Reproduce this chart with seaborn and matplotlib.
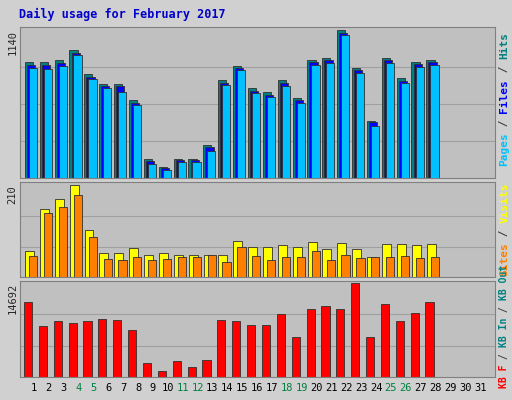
import matplotlib
matplotlib.use("Agg")
import matplotlib.pyplot as plt
import seaborn as sns
import numpy as np

sns.set_style("white")
plt.rcParams['font.family'] = ['DejaVu Sans Mono', 'DejaVu Sans']

days = list(range(1, 29))
all_days = list(range(1, 32))
weekend = [4, 5, 11, 12, 18, 19, 25, 26]
hits = [892, 892, 908, 985, 799, 722, 722, 597, 147, 85, 147, 147, 256, 752, 861, 690, 659, 752, 613, 908, 923, 1140, 845, 442, 923, 768, 892, 908]
files = [870, 870, 885, 965, 780, 705, 705, 580, 130, 75, 135, 135, 240, 735, 845, 672, 642, 735, 598, 890, 905, 1118, 828, 428, 905, 750, 875, 890]
pages = [850, 840, 860, 950, 765, 690, 665, 565, 110, 60, 120, 120, 210, 715, 830, 655, 625, 705, 580, 870, 885, 1100, 810, 400, 885, 735, 855, 870]
visits = [60, 157, 180, 212, 109, 55, 55, 67, 51, 55, 51, 51, 51, 51, 83, 69, 69, 74, 69, 81, 65, 79, 65, 46, 76, 76, 74, 76]
sites = [48, 148, 162, 189, 92, 42, 39, 46, 39, 42, 46, 46, 51, 35, 69, 48, 39, 46, 46, 60, 39, 51, 44, 46, 46, 48, 44, 46]
kbytes = [11690, 7900, 8690, 8370, 8690, 9010, 8850, 7270, 2210, 950, 2530, 1580, 2690, 8850, 8690, 8060, 8060, 9800, 6320, 10590, 11060, 10590, 14692, 6320, 11380, 8690, 9960, 11690]

fig = plt.figure(figsize=(5.12, 4.0), dpi=100)
fig.patch.set_facecolor('#d0d0d0')
fig.text(0.037, 0.963, "Daily usage for February 2017", color='#0000cc',
         fontsize=8.5, fontweight='bold', va='center', ha='left')

xl = (0.06, 32.0)
L, W = 20/512, 475/512
axes_spec = [(27, 178), (182, 277), (281, 377)]
axs = []
for top, bot in axes_spec:
    ax = fig.add_axes([L, 1-bot/400, W, (bot-top)/400])
    ax.set_facecolor('#c0c0c0')
    ax.set_xlim(*xl)
    for s in ax.spines.values():
        s.set_color('#808080')
    axs.append(ax)

def bars(ax, offs, vals, color, width=0.55, edge='#303030'):
    sns.barplot(x=np.array(days) + offs, y=vals, native_scale=True, color=color,
                width=width, edgecolor=edge, linewidth=0.6, saturation=1, ax=ax)

ax = axs[0]
for g in [285, 570, 855]:
    ax.axhline(g, color='#a0a0a0', lw=0.8, zorder=0)
bars(ax, -0.34, hits, '#008080')
bars(ax, -0.2, files, '#0000ff')
bars(ax, -0.07, pages, '#00c0ff')
ax.set_ylim(0, 1140*1.02)
ax.set_yticks([1140]); ax.set_yticklabels(['1140'])

ax = axs[1]
for g in [70, 140]:
    ax.axhline(g, color='#a0a0a0', lw=0.8, zorder=0)
bars(ax, -0.3, visits, '#ffff00', width=0.6)
bars(ax, -0.05, sites, '#ff8000', width=0.55)
ax.set_ylim(0, 210*1.04)
ax.set_yticks([210]); ax.set_yticklabels(['210'])

ax = axs[2]
for g in [4897, 9794]:
    ax.axhline(g, color='#a0a0a0', lw=0.8, zorder=0)
bars(ax, -0.4, kbytes, '#ff0000', width=0.55)
ax.set_ylim(0, 14692*1.02)
ax.set_yticks([14692]); ax.set_yticklabels(['14692'])

for i, ax in enumerate(axs):
    ax.set_xlabel(''); ax.set_ylabel('')
    for lab in ax.get_yticklabels():
        lab.set_rotation(90); lab.set_va('top'); lab.set_fontsize(7.5)
    ax.tick_params(axis='y', length=0, pad=2)
    if i < 2:
        ax.set_xticks([])
    else:
        ax.set_xticks(all_days)
        ax.set_xticklabels([str(d) for d in all_days], fontsize=7.5)
        ax.tick_params(axis='x', length=0, pad=4)
        for lab, d in zip(ax.get_xticklabels(), all_days):
            lab.set_color('#008040' if d in weekend else 'black')
    ax.set_xlim(*xl)

def side(y_px, parts, fs):
    # parts listed bottom to top; y_px is bottom in pixels from top
    step = 0.6 * fs * 100 / 72 / 400
    yy = 1 - y_px / 400
    for txt, c in parts:
        fig.text(0.985, yy, txt, color=c, rotation=90, fontsize=fs,
                 ha='center', va='bottom', fontweight='bold')
        yy += len(txt) * step

side(166, [("Pages", '#00c0ff'), (" / ", '#404040'), ("Files", '#0000ff'), (" / ", '#404040'), ("Hits", '#008080')], 8)
side(276, [("Sites", '#ff8000'), (" / ", '#404040'), ("Visits", '#ffff00')], 8)
side(388, [("KB F", '#ff0000'), (" / ", '#404040'), ("KB In", '#008080'), (" / ", '#404040'), ("KB Out", '#008080')], 7)

fig.savefig('out.png', dpi=100, facecolor=fig.get_facecolor())
